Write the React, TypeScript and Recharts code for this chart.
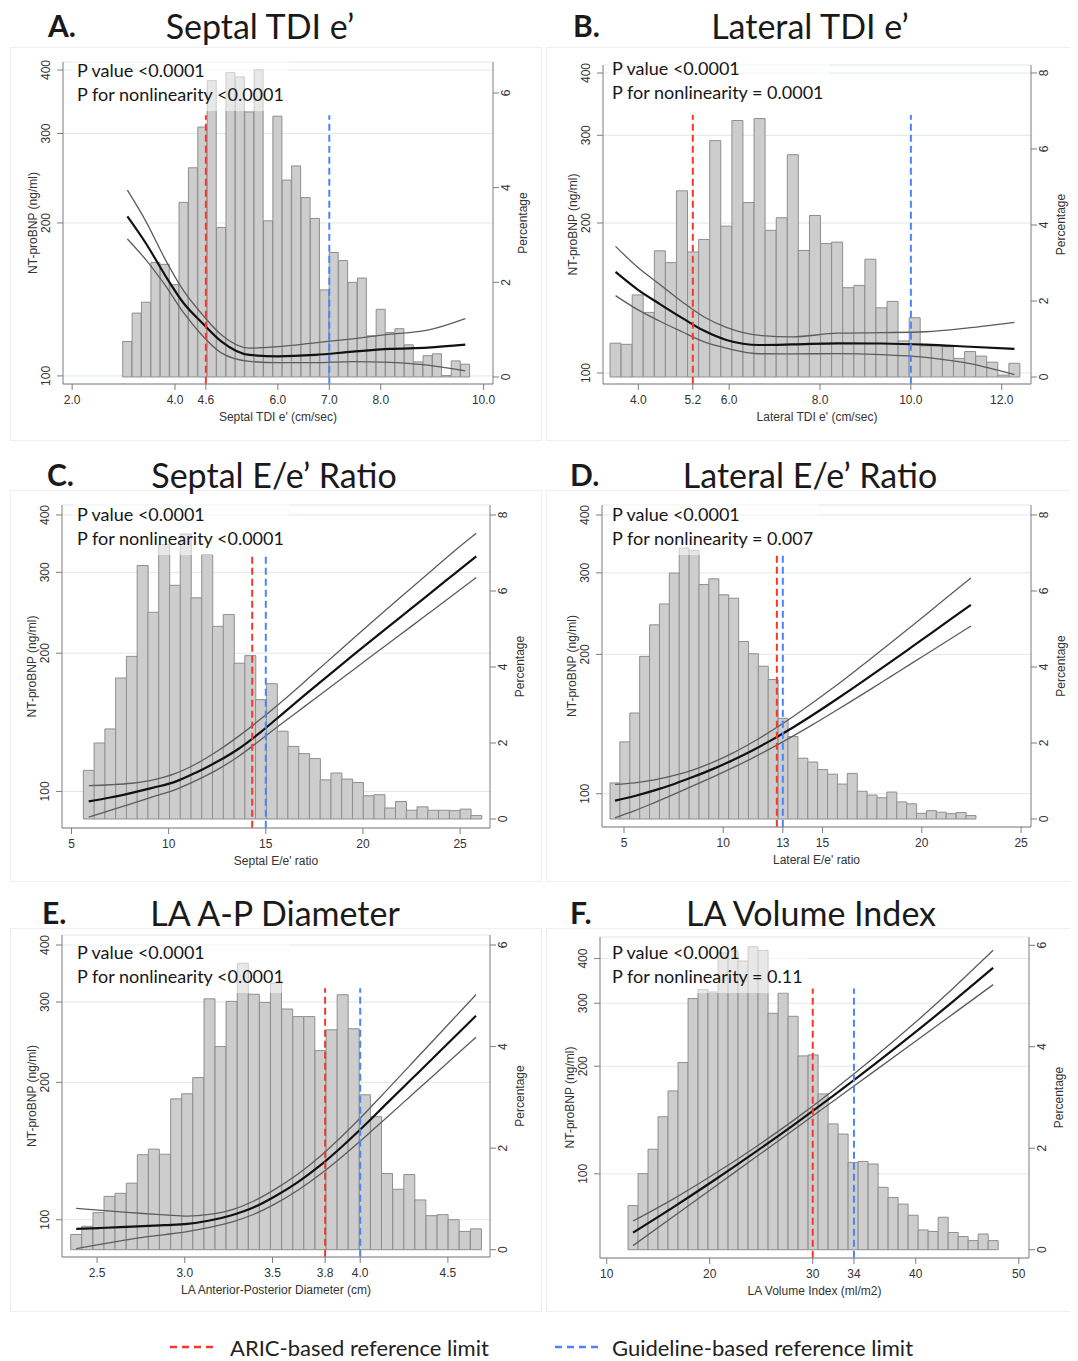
import React from "react";
import { ComposedChart, Bar, Line, XAxis, YAxis, CartesianGrid, ReferenceLine } from "recharts";

const _ = null;

// A. Septal TDI e'
const A_BINS = [3.074, 3.257, 3.439, 3.622, 3.804, 3.987, 4.169, 4.352, 4.534, 4.717, 4.899, 5.082, 5.264, 5.447, 5.629, 5.812, 5.994, 6.177, 6.359, 6.542, 6.724, 6.907, 7.089, 7.272, 7.454, 7.637, 7.819, 8.002, 8.184, 8.367, 8.549, 8.732, 8.914, 9.097, 9.279, 9.462, 9.644];
const A_PCT = [0.75, 1.35, 1.58, 2.42, 2.38, 1.95, 3.69, 4.42, 5.28, 6.26, 3.16, 6.43, 6.34, 5.6, 6.49, 3.3, 5.51, 4.16, 4.46, 3.79, 3.35, 1.84, 2.63, 2.46, 2.0, 2.09, 0.87, 1.43, 0.94, 1.02, 0.68, 0.32, 0.45, 0.49, 0.03, 0.34, 0.27];
const A_FIT = [206, _, 182, _, 158, _, 139, _, 127, _, 117, _, _, 110, _, _, 109.3, _, _, _, 110, _, _, _, 111.6, _, _, _, 113, _, _, _, 113.7, _, _, _, 115.2];
const A_HI = [232, _, 201, _, 170, _, 147, _, 132, _, 120.5, _, _, 113.4, _, _, 114.2, _, _, _, 116.2, _, _, _, 118.3, _, _, _, 120.8, _, _, _, 123, _, _, _, 129.6];
const A_LO = [186, _, 169, _, 151, _, 133, _, 120, _, 111, _, _, 106.8, _, _, 106.2, _, _, _, 106.2, _, _, _, 106.7, _, _, _, 106.3, _, _, _, 105, _, _, _, 102.3];
const A_XTICKS = [2, 4, 4.6, 6, 7, 8, 10];
const A_REF = [4.6, 7.0];

// B. Lateral TDI e'
const B_BINS = [3.499, 3.743, 3.987, 4.231, 4.475, 4.719, 4.962, 5.206, 5.45, 5.694, 5.938, 6.182, 6.426, 6.67, 6.914, 7.158, 7.401, 7.645, 7.889, 8.133, 8.377, 8.621, 8.865, 9.109, 9.353, 9.597, 9.84, 10.084, 10.328, 10.572, 10.816, 11.06, 11.304, 11.548, 11.792, 12.036, 12.279];
const B_PCT = [0.89, 0.86, 2.16, 1.7, 3.32, 3.01, 4.9, 3.29, 3.62, 6.22, 3.97, 6.75, 4.59, 6.8, 3.86, 4.19, 5.85, 3.33, 4.25, 3.51, 3.55, 2.35, 2.41, 3.1, 1.82, 1.99, 0.95, 1.56, 0.82, 0.82, 0.8, 0.49, 0.67, 0.55, 0.39, 0.05, 0.36];
const B_FIT = [159.5, _, 147, _, 137.5, _, 129, _, 121.5, _, 116.5, _, _, 113.8, _, _, 114.1, _, _, _, 114.7, _, _, _, 114.6, _, _, _, 114, _, _, _, 112.9, _, _, _, 111.8];
const B_HI = [179.5, _, 163, _, 150.5, _, 139, _, 129.5, _, 123.5, _, _, 119, _, _, 118.2, _, _, _, 120.2, _, _, _, 120.5, _, _, _, 121, _, _, _, 123.3, _, _, _, 126.4];
const B_LO = [143, _, 134, _, 127, _, 121, _, 115.5, _, 112.2, _, _, 109.3, _, _, 109.2, _, _, _, 109.4, _, _, _, 108.9, _, _, _, 107.5, _, _, _, 104.4, _, _, _, 99.2];
const B_XTICKS = [4, 5.2, 6, 8, 10, 12];
const B_REF = [5.2, 10.0];

// C. Septal E/e' ratio
const C_BINS = [5.887, 6.441, 6.995, 7.549, 8.103, 8.657, 9.211, 9.765, 10.319, 10.873, 11.427, 11.981, 12.535, 13.089, 13.643, 14.197, 14.751, 15.305, 15.859, 16.413, 16.967, 17.521, 18.075, 18.629, 19.183, 19.737, 20.291, 20.845, 21.399, 21.953, 22.507, 23.061, 23.615, 24.169, 24.723, 25.277, 25.831];
const C_PCT = [1.28, 2.0, 2.37, 3.71, 4.28, 6.67, 5.44, 7.22, 6.15, 7.5, 5.82, 6.96, 5.07, 5.38, 4.1, 4.3, 3.14, 3.56, 2.31, 1.91, 1.72, 1.59, 1.03, 1.21, 1.05, 0.96, 0.61, 0.64, 0.29, 0.46, 0.23, 0.32, 0.23, 0.23, 0.22, 0.26, 0.09];
const C_FIT = [95.1, _, 97, _, 99.3, _, 101.9, _, 104.9, _, 110, _, 116.3, _, 124.2, _, 134.8, _, 147.6, _, 161.7, _, 176.8, _, 193.2, _, 211, _, 229.9, _, 250.8, _, 273.3, _, 298.1, _, 324.9];
const C_HI = [103, _, 103.4, _, 104.2, _, 106, _, 109.3, _, 114.9, _, 122.6, _, 132.3, _, 143.9, _, 157.4, _, 172.9, _, 190.3, _, 209.5, _, 230.4, _, 253.1, _, 277.7, _, 304.7, _, 334.4, _, 365];
const C_LO = [87.9, _, 90.9, _, 94.1, _, 97.4, _, 100.8, _, 105.7, _, 111.7, _, 119.6, _, 129.8, _, 140.9, _, 152.8, _, 165.7, _, 179.7, _, 194.9, _, 211.3, _, 229.1, _, 248.5, _, 269.5, _, 292.2];
const C_XTICKS = [5, 10, 15, 20, 25];
const C_REF = [14.3, 15];

// D. Lateral E/e' ratio
const D_BINS = [4.544, 5.042, 5.54, 6.038, 6.536, 7.034, 7.532, 8.03, 8.528, 9.026, 9.524, 10.022, 10.52, 11.018, 11.516, 12.014, 12.512, 13.01, 13.508, 14.006, 14.504, 15.002, 15.5, 15.998, 16.496, 16.994, 17.492, 17.99, 18.488, 18.986, 19.484, 19.982, 20.48, 20.978, 21.476, 21.974, 22.472];
const D_PCT = [0.95, 2.03, 2.79, 4.28, 5.11, 5.66, 6.47, 7.13, 7.07, 6.17, 6.32, 5.9, 5.81, 4.67, 4.35, 4.02, 3.67, 2.65, 2.17, 1.6, 1.5, 1.3, 1.18, 0.92, 1.2, 0.73, 0.63, 0.56, 0.71, 0.45, 0.4, 0.15, 0.22, 0.18, 0.14, 0.17, 0.09];
const D_FIT = [96.6, _, 98.9, _, 101.7, _, 105, _, 108.9, _, 113.3, _, 118.4, _, 124.3, _, 131.2, _, 139, _, 147.9, _, 157.8, _, 168.7, _, 180.6, _, 193.3, _, 207.3, _, 222.4, _, 238.5, _, 255.8];
const D_HI = [104.8, _, 105.6, _, 107.1, _, 109.5, _, 112.8, _, 117.2, _, 122.7, _, 129.5, _, 137.5, _, 146.7, _, 157.2, _, 168.9, _, 182.1, _, 196.7, _, 212.6, _, 230.1, _, 249.2, _, 269.9, _, 292.4];
const D_LO = [88.7, _, 91.9, _, 95.7, _, 99.8, _, 104.2, _, 108.9, _, 114, _, 119.7, _, 126.1, _, 133.2, _, 141, _, 149.6, _, 158.9, _, 168.9, _, 179.7, _, 191.2, _, 203.4, _, 216.4, _, 230.2];
const D_XTICKS = [5, 10, 13, 15, 20, 25];
const D_REF = [12.7, 13];

// E. LA A-P diameter
const E_BINS = [2.381, 2.444, 2.508, 2.571, 2.634, 2.698, 2.761, 2.824, 2.887, 2.951, 3.014, 3.077, 3.141, 3.204, 3.267, 3.331, 3.394, 3.457, 3.52, 3.584, 3.647, 3.71, 3.774, 3.837, 3.9, 3.963, 4.027, 4.09, 4.153, 4.217, 4.28, 4.343, 4.407, 4.47, 4.533, 4.596, 4.66];
const E_PCT = [0.3, 0.46, 0.73, 1.05, 1.11, 1.31, 1.87, 1.98, 1.88, 2.97, 3.07, 3.39, 4.94, 4.0, 4.89, 5.64, 5.03, 4.87, 5.25, 4.74, 4.59, 4.59, 3.92, 4.33, 5.02, 4.35, 3.05, 2.62, 1.5, 1.19, 1.48, 0.98, 0.67, 0.69, 0.59, 0.36, 0.41];
const E_FIT = [95.5, _, 95.9, _, 96.3, _, 96.8, _, 97.3, _, 97.9, _, 99.6, _, 102.3, _, 106.5, _, 112.9, _, 121.1, _, 131.7, _, 145.1, _, 161.3, _, 180.1, _, 201.1, _, 224.5, _, 250.6, _, 279.8];
const E_HI = [105.9, _, 105, _, 104.1, _, 103.2, _, 102.5, _, 101.8, _, 102.7, _, 105.1, _, 109.9, _, 117, _, 126.1, _, 138, _, 153, _, 171.1, _, 192.6, _, 217.1, _, 244.8, _, 276, _, 311.2];
const E_LO = [86.4, _, 88.2, _, 89.9, _, 91.5, _, 92.8, _, 94.2, _, 96.2, _, 98.8, _, 102.8, _, 108.6, _, 116.2, _, 125.9, _, 137.8, _, 151.8, _, 167.8, _, 185.6, _, 205.3, _, 227.1, _, 251.2];
const E_XTICKS = [2.5, 3.0, 3.5, 3.8, 4.0, 4.5];
const E_REF = [3.8, 4.0];

// F. LA volume index
const F_BINS = [12.556, 13.527, 14.498, 15.469, 16.44, 17.411, 18.382, 19.353, 20.324, 21.295, 22.266, 23.237, 24.208, 25.179, 26.15, 27.121, 28.092, 29.063, 30.034, 31.005, 31.976, 32.947, 33.918, 34.889, 35.86, 36.831, 37.802, 38.773, 39.744, 40.715, 41.686, 42.657, 43.628, 44.599, 45.57, 46.541, 47.512];
const F_PCT = [0.87, 1.5, 1.98, 2.62, 3.13, 3.69, 4.95, 5.13, 5.08, 5.85, 5.89, 5.69, 5.97, 5.9, 4.66, 5.06, 4.6, 3.82, 3.84, 3.07, 2.48, 2.28, 1.72, 1.74, 1.69, 1.23, 1.03, 0.9, 0.68, 0.39, 0.36, 0.64, 0.34, 0.26, 0.18, 0.31, 0.18];
const F_FIT = [68.5, _, _, _, 80.6, _, _, _, 95.5, _, _, _, 113.9, _, _, _, 136.7, _, _, _, 165.2, _, _, _, 201, _, _, _, 246.2, _, _, _, 303.6, _, _, _, 376.8];
const F_HI = [73.8, _, _, _, 85, _, _, _, 99.4, _, _, _, 117.6, _, _, _, 140.9, _, _, _, 171.1, _, _, _, 210.4, _, _, _, 261.9, _, _, _, 330.5, _, _, _, 422.1];
const F_LO = [63, _, _, _, 75.9, _, _, _, 91.3, _, _, _, 110, _, _, _, 132.4, _, _, _, 159.7, _, _, _, 192.5, _, _, _, 232.2, _, _, _, 280.2, _, _, _, 338.2];
const F_XTICKS = [10, 20, 30, 34, 40, 50];
const F_REF = [30, 34];

const NT_TICKS = [100, 200, 300, 400];

const AXIS_FONT = "'Liberation Sans', Arial, Helvetica, sans-serif";
const TEXT_FONT = "Lato, 'Open Sans', sans-serif";
const AXIS_COLOR = "#7d7d7d";

const PANELS = [
  {
    letter: "A.", title: "Septal TDI e\u2019", xLabel: "Septal TDI e' (cm/sec)",
    p1: "P value <0.0001", p2: "P for nonlinearity <0.0001",
    bins: A_BINS, pct: A_PCT, fit: A_FIT, hi: A_HI, lo: A_LO, xTicks: A_XTICKS, refs: A_REF, dec: 1,
    xDomain: [1.822, 10.183], ntDomain: [96.4, 414.8], pctDomain: [-0.148, 6.655], pctTicks: [0, 2, 4, 6], refTop: 326,
    box: { l: 63, t: 62, r: 493, b: 384 }, head: { lx: 48, cx: 260, cy: 25 }, note: { x: 77, y: 70 },
    frame: { x: 10, y: 47, w: 530, h: 392 },
  },
  {
    letter: "B.", title: "Lateral TDI e\u2019", xLabel: "Lateral TDI e' (cm/sec)",
    p1: "P value <0.0001", p2: "P for nonlinearity = 0.0001",
    bins: B_BINS, pct: B_PCT, fit: B_FIT, hi: B_HI, lo: B_LO, xTicks: B_XTICKS, refs: B_REF, dec: 1,
    xDomain: [3.223, 12.644], ntDomain: [95.04, 415.1], pctDomain: [-0.184, 8.21], pctTicks: [0, 2, 4, 6, 8], refTop: 329.5,
    box: { l: 603, t: 65, r: 1031, b: 384 }, head: { lx: 573, cx: 810, cy: 25 }, note: { x: 612, y: 68 },
    frame: { x: 546, y: 47, w: 530, h: 392 },
  },
  {
    letter: "C.", title: "Septal E/e\u2019 Ratio", xLabel: "Septal E/e' ratio",
    p1: "P value <0.0001", p2: "P for nonlinearity <0.0001",
    bins: C_BINS, pct: C_PCT, fit: C_FIT, hi: C_HI, lo: C_LO, xTicks: C_XTICKS, refs: C_REF, dec: 0,
    xDomain: [4.511, 26.54], ntDomain: [83.25, 420.5], pctDomain: [-0.237, 8.263], pctTicks: [0, 2, 4, 6, 8], refTop: 327.4,
    box: { l: 62, t: 505, r: 490, b: 828 }, head: { lx: 47, cx: 274, cy: 474 }, note: { x: 77, y: 514 },
    frame: { x: 10, y: 490, w: 530, h: 390 },
  },
  {
    letter: "D.", title: "Lateral E/e\u2019 Ratio", xLabel: "Lateral E/e' ratio",
    p1: "P value <0.0001", p2: "P for nonlinearity = 0.007",
    bins: D_BINS, pct: D_PCT, fit: D_FIT, hi: D_HI, lo: D_LO, xTicks: D_XTICKS, refs: D_REF, dec: 0,
    xDomain: [3.892, 25.5], ntDomain: [84.75, 420.4], pctDomain: [-0.21, 8.263], pctTicks: [0, 2, 4, 6, 8], refTop: 327.8,
    box: { l: 602, t: 505, r: 1031, b: 827 }, head: { lx: 570, cx: 810, cy: 474 }, note: { x: 612, y: 514 },
    frame: { x: 546, y: 490, w: 530, h: 390 },
  },
  {
    letter: "E.", title: "LA A-P Diameter", xLabel: "LA Anterior-Posterior Diameter (cm)",
    p1: "P value <0.0001", p2: "P for nonlinearity <0.0001",
    bins: E_BINS, pct: E_PCT, fit: E_FIT, hi: E_HI, lo: E_LO, xTicks: E_XTICKS, refs: E_REF, dec: 1,
    xDomain: [2.3, 4.74], ntDomain: [82.86, 420.7], pctDomain: [-0.144, 6.197], pctTicks: [0, 2, 4, 6], refTop: 321.5,
    box: { l: 62, t: 935, r: 490, b: 1257 }, head: { lx: 42, cx: 275, cy: 912 }, note: { x: 77, y: 952 },
    frame: { x: 10, y: 928, w: 530, h: 382 },
  },
  {
    letter: "F.", title: "LA Volume Index", xLabel: "LA Volume Index (ml/m2)",
    p1: "P value <0.0001", p2: "P for nonlinearity = 0.11",
    bins: F_BINS, pct: F_PCT, fit: F_FIT, hi: F_HI, lo: F_LO, xTicks: F_XTICKS, refs: F_REF, dec: 0,
    xDomain: [9.35, 50.99], ntDomain: [58.17, 459.6], pctDomain: [-0.163, 6.163], pctTicks: [0, 2, 4, 6], refTop: 329.8,
    box: { l: 600, t: 937, r: 1029, b: 1258 }, head: { lx: 570, cx: 811, cy: 912 }, note: { x: 612, y: 952 },
    frame: { x: 546, y: 928, w: 530, h: 382 },
  },
];

const tickText = { fontSize: 12, fill: "#333", fontFamily: AXIS_FONT };

const XTick = (props: any) => {
  const { x, y, payload, dec } = props;
  return (
    <text x={x} y={y + 8} textAnchor="middle" dominantBaseline="central" {...tickText}>
      {Number(payload.value).toFixed(dec)}
    </text>
  );
};

const LeftTick = (props: any) => {
  const cx = props.x - 9;
  return (
    <text x={cx} y={props.y} transform={`rotate(-90 ${cx} ${props.y})`} textAnchor="middle" dominantBaseline="central" {...tickText}>
      {props.payload.value}
    </text>
  );
};

const RightTick = (props: any) => {
  const cx = props.x + 5;
  return (
    <text x={cx} y={props.y} transform={`rotate(-90 ${cx} ${props.y})`} textAnchor="middle" dominantBaseline="central" {...tickText}>
      {props.payload.value}
    </text>
  );
};

function Panel({ cfg }: { cfg: any }) {
  const AX = 60;
  const TOP = 10;
  const XH = 46;
  const { box } = cfg;
  const w = box.r - box.l + AX * 2;
  const h = box.b - box.t + TOP + XH;
  const rows = cfg.bins.map((x: number, i: number) => ({
    x,
    pct: cfg.pct[i],
    fit: cfg.fit[i],
    hi: cfg.hi[i],
    lo: cfg.lo[i],
  }));
  const yLow = cfg.ntDomain[0] * 1.001;
  const labelStyle = { fontSize: 12, fill: "#333", fontFamily: AXIS_FONT };

  return (
    <>
      <div style={{ position: "absolute", left: box.l - AX, top: box.t - TOP }}>
        <ComposedChart
          width={w}
          height={h}
          data={rows}
          margin={{ top: TOP, right: 0, bottom: 0, left: 0 }}
          barCategoryGap={0}
          barGap={0}
        >
          <CartesianGrid yAxisId="nt" vertical={false} stroke="#dde9ea" />
          <XAxis
            dataKey="x"
            type="number"
            domain={cfg.xDomain}
            ticks={cfg.xTicks}
            allowDataOverflow
            interval={0}
            height={XH}
            tickSize={6}
            tickMargin={2}
            stroke={AXIS_COLOR}
            tick={(t: any) => <XTick {...t} dec={cfg.dec} />}
            label={{ value: cfg.xLabel, position: "insideBottom", offset: 9, ...labelStyle }}
          />
          <YAxis
            yAxisId="nt"
            scale="log"
            type="number"
            domain={cfg.ntDomain}
            ticks={NT_TICKS}
            allowDataOverflow
            interval={0}
            width={AX}
            tickSize={6}
            tickMargin={2}
            stroke={AXIS_COLOR}
            tick={LeftTick}
            label={{ value: "NT-proBNP (ng/ml)", angle: -90, position: "center", ...labelStyle }}
          />
          <YAxis
            yAxisId="pct"
            orientation="right"
            type="number"
            domain={cfg.pctDomain}
            ticks={cfg.pctTicks}
            allowDataOverflow
            interval={0}
            width={AX}
            tickSize={6}
            tickMargin={2}
            stroke={AXIS_COLOR}
            tick={RightTick}
            label={{ value: "Percentage", angle: -90, position: "center", ...labelStyle }}
          />
          <Bar yAxisId="pct" dataKey="pct" fill="#cdcdcd" stroke="#8e8e8e" strokeWidth={1} isAnimationActive={false} />
          <Line yAxisId="nt" dataKey="hi" type="monotone" stroke="#5c5c5c" strokeWidth={1.3} dot={false} connectNulls isAnimationActive={false} />
          <Line yAxisId="nt" dataKey="lo" type="monotone" stroke="#5c5c5c" strokeWidth={1.3} dot={false} connectNulls isAnimationActive={false} />
          <Line yAxisId="nt" dataKey="fit" type="monotone" stroke="#111" strokeWidth={2.2} dot={false} connectNulls isAnimationActive={false} />
          <ReferenceLine
            yAxisId="nt"
            ifOverflow="visible"
            segment={[{ x: cfg.refs[0], y: yLow }, { x: cfg.refs[0], y: cfg.refTop }]}
            stroke="#f5382a"
            strokeWidth={2}
            strokeDasharray="7 4"
          />
          <ReferenceLine
            yAxisId="nt"
            ifOverflow="visible"
            segment={[{ x: cfg.refs[1], y: yLow }, { x: cfg.refs[1], y: cfg.refTop }]}
            stroke="#4a84ff"
            strokeWidth={2}
            strokeDasharray="7 4"
          />
        </ComposedChart>
      </div>
      <div
        style={{
          position: "absolute",
          left: cfg.note.x - 4,
          top: cfg.note.y - 14,
          padding: "2px 5px 5px 4px",
          background: "rgba(255,255,255,0.55)",
          fontFamily: TEXT_FONT,
          fontSize: 18,
          lineHeight: "24px",
          color: "#161616",
          whiteSpace: "nowrap",
        }}
      >
        <div>{cfg.p1}</div>
        <div>{cfg.p2}</div>
      </div>
      <div
        style={{
          position: "absolute",
          left: cfg.head.lx,
          top: cfg.head.cy,
          transform: "translateY(-50%)",
          fontFamily: TEXT_FONT,
          fontWeight: 700,
          fontSize: 30,
          color: "#1a1a1a",
          whiteSpace: "nowrap",
        }}
      >
        {cfg.letter}
      </div>
      <div
        style={{
          position: "absolute",
          left: cfg.head.cx,
          top: cfg.head.cy,
          transform: "translate(-50%, -50%)",
          fontFamily: TEXT_FONT,
          fontSize: 34,
          color: "#1a1a1a",
          whiteSpace: "nowrap",
        }}
      >
        {cfg.title}
      </div>
    </>
  );
}

export default function App() {
  return (
    <div style={{ position: "relative", width: 1078, height: 1361, margin: "-8px 0 0 -8px", background: "#fff", overflow: "hidden" }}>
      {PANELS.map((p) => (
        <div
          key={p.letter + "f"}
          style={{ position: "absolute", left: p.frame.x, top: p.frame.y, width: p.frame.w, height: p.frame.h, border: "1px solid #efefef" }}
        />
      ))}
      {PANELS.map((p) => (
        <Panel key={p.letter} cfg={p} />
      ))}
      <svg style={{ position: "absolute", left: 0, top: 1336 }} width={1078} height={24}>
        <line x1={170} x2={216} y1={11} y2={11} stroke="#f5382a" strokeWidth={2.5} strokeDasharray="7 5" />
        <line x1={555} x2={601} y1={11} y2={11} stroke="#4a84ff" strokeWidth={2.5} strokeDasharray="7 5" />
      </svg>
      <div style={{ position: "absolute", left: 230, top: 1347, transform: "translateY(-50%)", fontFamily: TEXT_FONT, fontSize: 22, color: "#222", whiteSpace: "nowrap" }}>
        ARIC-based reference limit
      </div>
      <div style={{ position: "absolute", left: 612, top: 1347, transform: "translateY(-50%)", fontFamily: TEXT_FONT, fontSize: 22, color: "#222", whiteSpace: "nowrap" }}>
        Guideline-based reference limit
      </div>
    </div>
  );
}
